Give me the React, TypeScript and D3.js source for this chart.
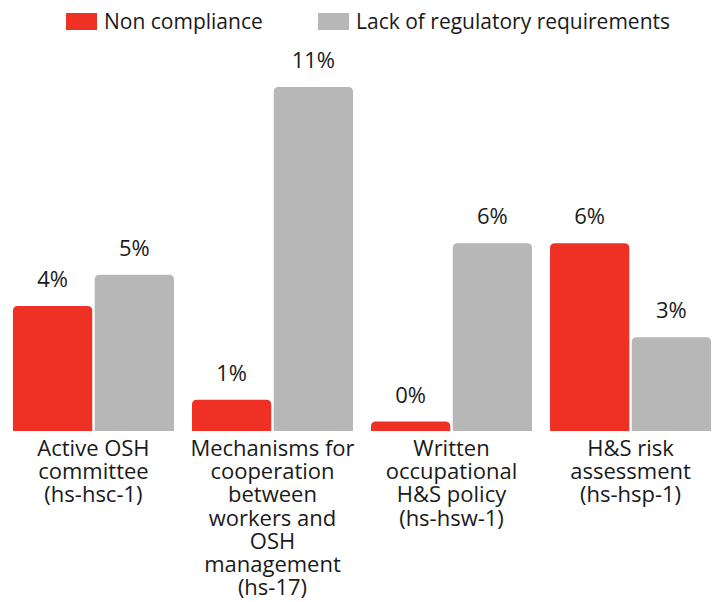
import React from 'react';
import * as d3 from 'd3';

// データ
const categories = ['hs-hsc-1', 'hs-17', 'hs-hsw-1', 'hs-hsp-1'];
const categoryLines = [
  ['Active OSH', 'committee', '(hs-hsc-1)'],
  ['Mechanisms for', 'cooperation', 'between', 'workers and', 'OSH', 'management', '(hs-17)'],
  ['Written', 'occupational', 'H&S policy', '(hs-hsw-1)'],
  ['H&S risk', 'assessment', '(hs-hsp-1)'],
];
const seriesNames = ['Non compliance', 'Lack of regulatory requirements'];
const nonCompliance = [4.0, 1.0, 0.3, 6.0];
const lackOfRequirements = [5.0, 11.0, 6.0, 3.0];
const seriesColors = ['#ee3124', '#b7b7b7'];

const W = 712;
const H = 602;
const FONT = '"Open Sans", "Noto Sans", sans-serif';
const TEXT = '#1a1a1a';

// 上の角だけ丸めた棒
const barPath = (x: number, y: number, w: number, h: number, r: number) => {
  const rr = Math.min(r, h, w / 2);
  return `M${x},${y + h}V${y + rr}Q${x},${y} ${x + rr},${y}H${x + w - rr}Q${x + w},${y} ${x + w},${y + rr}V${y + h}Z`;
};

export default function App() {
  const baseline = 431;
  const x0 = d3.scaleBand<string>().domain(categories).range([4, 720]).paddingInner(18 / 179).paddingOuter(0.05);
  const x1 = d3.scaleBand<number>().domain([0, 1]).range([0, x0.bandwidth()]).paddingInner(0.03);
  const y = d3.scaleLinear().domain([0, 11]).range([baseline, 87]);
  const fmt = d3.format('.0f');
  const series = [nonCompliance, lackOfRequirements];

  return (
    <svg width={W} height={H} style={{ position: 'absolute', left: 0, top: 0, fontFamily: FONT }}>
      {/* 凡例 */}
      <g>
        <rect x={66} y={13} width={31} height={17} fill={seriesColors[0]} />
        <text x={104} y={29} fontSize={21} fill={TEXT}>{seriesNames[0]}</text>
        <rect x={318} y={13} width={31} height={17} fill={seriesColors[1]} />
        <text x={356} y={29} fontSize={21} fill={TEXT}>{seriesNames[1]}</text>
      </g>

      {categories.map((c, i) => {
        const gx = x0(c) ?? 0;
        return (
          <g key={c} transform={`translate(${gx},0)`}>
            {series.map((vals, s) => {
              const v = vals[i];
              const bx = x1(s) ?? 0;
              const top = y(v);
              return (
                <g key={s}>
                  <path d={barPath(bx, top, x1.bandwidth(), baseline - top, 5)} fill={seriesColors[s]} />
                  <text x={bx + x1.bandwidth() / 2} y={top - 19} textAnchor="middle" fontSize={22} fill={TEXT}>
                    {fmt(v)}%
                  </text>
                </g>
              );
            })}
            <text textAnchor="middle" fontSize={22} fill={TEXT}>
              {categoryLines[i].map((line, k) => (
                <tspan key={k} x={x0.bandwidth() / 2} y={456 + k * 23.2}>{line}</tspan>
              ))}
            </text>
          </g>
        );
      })}
    </svg>
  );
}
